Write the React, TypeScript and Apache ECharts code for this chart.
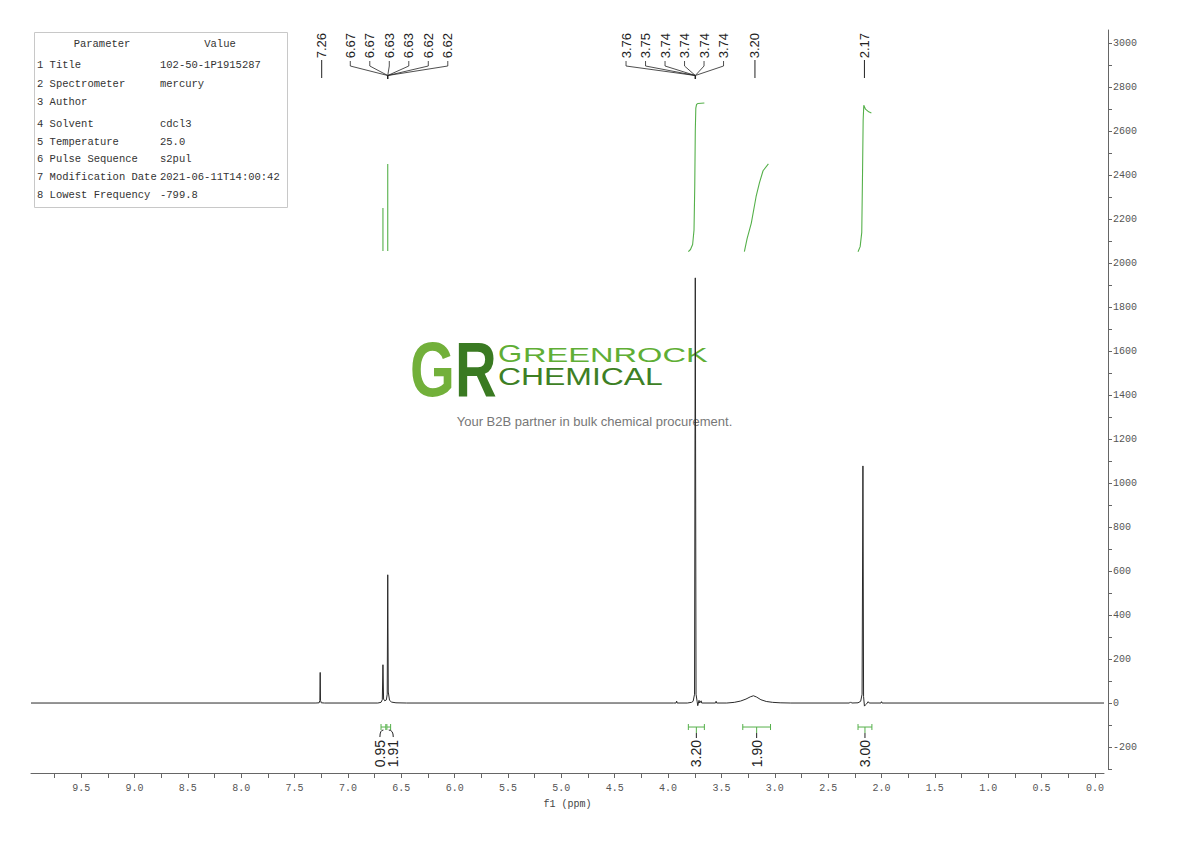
import { useEffect, useRef } from "react";
import * as echarts from "echarts";

// 1H trace: [ppm, intensity]
const SPECTRUM: [number, number][] = [
  [9.97, 0], [7.3, 0], [7.27, 1], [7.263, 12], [7.26, 139], [7.257, 12], [7.25, 1], [7.22, 0],
  [6.72, 0], [6.69, 3], [6.678, 15], [6.672, 174], [6.666, 18], [6.655, 10], [6.64, 14],
  [6.632, 40], [6.627, 583], [6.622, 50], [6.61, 12], [6.59, 4], [6.55, 1], [6.45, 0],
  [3.95, 0], [3.925, 0], [3.92, 9], [3.915, 0], [3.82, 0], [3.78, 3], [3.765, 8], [3.752, 40],
  [3.745, 1933], [3.738, 40], [3.728, 8], [3.722, -12], [3.716, 0], [3.71, 12], [3.704, 0],
  [3.69, 10], [3.685, 0], [3.555, 0], [3.55, 8], [3.545, 0],
  [3.45, 0], [3.38, 3], [3.32, 9], [3.27, 18], [3.23, 28], [3.2, 33], [3.17, 27], [3.13, 15],
  [3.08, 7], [3.02, 3], [2.95, 1], [2.85, 0],
  [2.3, 0], [2.29, 5], [2.28, 0], [2.22, 1], [2.195, 8], [2.182, 40], [2.174, 1078], [2.168, 30],
  [2.16, -14], [2.15, -8], [2.14, -4], [2.125, 6], [2.115, 0], [2.005, 0], [2.0, 6], [1.995, 0],
  [-0.085, 0],
];

// integral curves (green), same y scale
const INT_CURVE_1: [number, number][] = [[6.672, 2055], [6.672, 2251]];
const INT_CURVE_2: [number, number][] = [[6.627, 2055], [6.627, 2451]];
const INT_CURVE_3: [number, number][] = [
  [3.81, 2052], [3.79, 2062], [3.77, 2085], [3.757, 2150], [3.75, 2350], [3.745, 2600],
  [3.74, 2705], [3.733, 2722], [3.72, 2726], [3.66, 2728],
];
const INT_CURVE_4: [number, number][] = [
  [3.285, 2052], [3.26, 2110], [3.22, 2182], [3.175, 2303], [3.144, 2365], [3.11, 2420], [3.06, 2451],
];
const INT_CURVE_5: [number, number][] = [
  [2.22, 2052], [2.2, 2075], [2.185, 2140], [2.178, 2400], [2.172, 2650], [2.166, 2718],
  [2.15, 2700], [2.12, 2688], [2.095, 2683],
];

// peak picking labels
const PEAK_PPM = [7.26, 6.627, 3.745, 3.2, 2.174];
const PEAK_TEXTS = [
  ["7.26"],
  ["6.67", "6.67", "6.63", "6.63", "6.62", "6.62"],
  ["3.76", "3.75", "3.74", "3.74", "3.74", "3.74"],
  ["3.20"],
  ["2.17"],
];

// integral regions
const INT_FROM = [6.69, 6.635, 3.81, 3.3, 2.22];
const INT_TO = [6.645, 6.6, 3.66, 3.04, 2.09];
const INT_VALUES = ["0.95", "1.91", "3.20", "1.90", "3.00"];

// axis ticks
const X_LABELS = [0, 0.5, 1, 1.5, 2, 2.5, 3, 3.5, 4, 4.5, 5, 5.5, 6, 6.5, 7, 7.5, 8, 8.5, 9, 9.5];
const X_TICKS = X_LABELS.flatMap((v) => [v, v + 0.25]);
const Y_LABELS = [-200, 0, 200, 400, 600, 800, 1000, 1200, 1400, 1600, 1800, 2000, 2200, 2400, 2600, 2800, 3000];
const Y_TICKS = Y_LABELS.flatMap((v) => [v - 100, v]);

// parameter table
const PARAM_NAMES = [
  "1 Title", "2 Spectrometer", "3 Author", "4 Solvent", "5 Temperature",
  "6 Pulse Sequence", "7 Modification Date", "8 Lowest Frequency",
];
const PARAM_VALUES = [
  "102-50-1P1915287", "mercury", "", "cdcl3", "25.0", "s2pul", "2021-06-11T14:00:42", "-799.8",
];

// layout
const MONO = '"Liberation Mono", monospace';
const SANS = '"Liberation Sans", Arial, sans-serif';
const GREEN = "#55b04a";
const LABEL_GAP = 19.5;
const LABEL_SHIFT = [0, 11.3, -20.5, 0, 0];
const INT_SHIFT = [-3.5, 4.5, 0, 0, 0];
const ROW_Y = [65, 83.5, 101.5, 123.5, 141.5, 159, 177, 195];

const App = () => {
  const chartRef = useRef<HTMLDivElement>(null);

  useEffect(() => {
    if (!chartRef.current) return;
    const chart = echarts.init(chartRef.current, null, { renderer: "svg" });

    const peakLabels = (params: any, api: any) => {
      const i = params.dataIndex;
      const px = api.coord([PEAK_PPM[i], 0])[0];
      const texts = PEAK_TEXTS[i];
      const n = texts.length;
      const start = px + LABEL_SHIFT[i] - ((n - 1) * LABEL_GAP) / 2;
      const children: any[] = [];
      texts.forEach((t, k) => {
        const lx = n === 1 ? px + 1.5 : start + k * LABEL_GAP;
        children.push({
          type: "text",
          x: lx,
          y: 33,
          rotation: Math.PI / 2,
          style: {
            text: t,
            font: `13px ${SANS}`,
            fill: "#222",
            align: "right",
            verticalAlign: "middle",
          },
        });
        if (n === 1) {
          children.push({
            type: "line",
            shape: { x1: lx, y1: 60, x2: lx, y2: 78 },
            style: { stroke: "#222", lineWidth: 1 },
          });
        } else {
          children.push({
            type: "polyline",
            shape: { points: [[lx, 61], [lx, 66], [px, 75.5]] },
            style: { stroke: "#222", lineWidth: 0.8, fill: "none" },
          });
        }
      });
      if (n > 1) {
        children.push({
          type: "line",
          shape: { x1: px, y1: 75.5, x2: px, y2: 79 },
          style: { stroke: "#222", lineWidth: 1.5 },
        });
      }
      return { type: "group", children };
    };

    const integralLabels = (params: any, api: any) => {
      const i = params.dataIndex;
      const x1 = api.coord([INT_FROM[i], 0])[0];
      const x2 = api.coord([INT_TO[i], 0])[0];
      const y0 = api.coord([0, 0])[1];
      const cx = (x1 + x2) / 2;
      const lx = cx + INT_SHIFT[i];
      const yb = y0 + 24;
      const green = { stroke: GREEN, lineWidth: 1 };
      const children: any[] = [
        { type: "line", shape: { x1, y1: yb, x2, y2: yb }, style: green },
        { type: "line", shape: { x1, y1: yb - 3, x2: x1, y2: yb + 3 }, style: green },
        { type: "line", shape: { x1: x2, y1: yb - 3, x2, y2: yb + 3 }, style: green },
      ];
      if (INT_SHIFT[i] === 0) {
        children.push(
          { type: "line", shape: { x1: cx, y1: yb, x2: cx, y2: yb + 6 }, style: green },
          { type: "line", shape: { x1: cx, y1: yb + 6, x2: cx, y2: yb + 11 }, style: { stroke: "#222", lineWidth: 1 } }
        );
      } else {
        children.push({
          type: "bezierCurve",
          shape: { x1: cx, y1: yb + 3, cpx1: lx, cpy1: yb + 3, x2: lx, y2: yb + 10 },
          style: { stroke: "#222", lineWidth: 1, fill: "none" },
        });
      }
      children.push({
        type: "text",
        x: lx,
        y: yb + 13,
        rotation: Math.PI / 2,
        style: {
          text: INT_VALUES[i],
          font: `14px ${SANS}`,
          fill: "#222",
          align: "right",
          verticalAlign: "middle",
        },
      });
      return { type: "group", children };
    };

    const tableText = (text: string, x: number, y: number, align = "left") => ({
      type: "text",
      x,
      y,
      style: { text, font: `10.5px ${MONO}`, fill: "#333", align, verticalAlign: "middle" },
    });

    const graphic: any[] = [
      {
        type: "rect",
        shape: { x: 34.5, y: 32.5, width: 253, height: 175 },
        style: { fill: "#fff", stroke: "#c8c8c8", lineWidth: 1 },
      },
      tableText("Parameter", 102, 43.5, "center"),
      tableText("Value", 220, 43.5, "center"),
      ...PARAM_NAMES.map((t, k) => tableText(t, 37, ROW_Y[k])),
      ...PARAM_VALUES.map((t, k) => tableText(t, 160, ROW_Y[k])),
      // watermark logo
      {
        type: "text", x: 410, y: 369, scaleX: 0.74, z: -10,
        style: {
          text: "{g|G}{r|R}",
          font: `bold 78px ${SANS}`,
          align: "left",
          verticalAlign: "middle",
          rich: {
            g: { fill: "#72b03a", font: `bold 78px ${SANS}` },
            r: { fill: "#3a7a22", font: `bold 78px ${SANS}` },
          },
        },
      },
      {
        type: "text", x: 498, y: 354, scaleX: 1.3, z: -10,
        style: { text: "G", font: `24px ${SANS}`, fill: "#5fae35", align: "left", verticalAlign: "middle" },
      },
      {
        type: "text", x: 523, y: 355.5, scaleX: 1.63, z: -10,
        style: { text: "REENROCK", font: `20px ${SANS}`, fill: "#5fae35", align: "left", verticalAlign: "middle" },
      },
      {
        type: "text", x: 498, y: 377, scaleX: 1.33, z: -10,
        style: { text: "CHEMICAL", font: `24px ${SANS}`, fill: "#3d7f25", align: "left", verticalAlign: "middle" },
      },
      {
        type: "text", x: 594.5, y: 421, z: -10,
        style: {
          text: "Your B2B partner in bulk chemical procurement.",
          font: `13px ${SANS}`, fill: "#777", align: "center", verticalAlign: "middle",
        },
      },
    ];

    const intSeries = [INT_CURVE_1, INT_CURVE_2, INT_CURVE_3, INT_CURVE_4, INT_CURVE_5].map((d) => ({
      type: "line",
      data: d,
      showSymbol: false,
      silent: true,
      lineStyle: { color: GREEN, width: 1.1 },
      z: 3,
    }));

    chart.setOption({
      animation: false,
      backgroundColor: "#fff",
      tooltip: { show: false },
      grid: { left: 31, right: 86, top: 30, bottom: 72 },
      xAxis: {
        type: "value",
        min: -0.085,
        max: 9.97,
        inverse: true,
        offset: 4,
        name: "f1 (ppm)",
        nameLocation: "middle",
        nameGap: 26,
        nameTextStyle: { fontFamily: MONO, fontSize: 10, color: "#444" },
        axisLine: { onZero: false, lineStyle: { color: "#666", width: 1 } },
        axisTick: { show: true, customValues: X_TICKS, length: 5, lineStyle: { color: "#666" } },
        axisLabel: {
          customValues: X_LABELS,
          formatter: (v: number) => v.toFixed(1),
          fontFamily: MONO,
          fontSize: 10,
          color: "#555",
          margin: 10,
        },
        splitLine: { show: false },
      },
      yAxis: {
        type: "value",
        position: "right",
        min: -300,
        max: 3060,
        offset: 4,
        axisLine: { show: true, onZero: false, lineStyle: { color: "#666", width: 1 } },
        axisTick: { show: true, customValues: Y_TICKS, length: 4, lineStyle: { color: "#666" } },
        axisLabel: {
          customValues: Y_LABELS,
          formatter: (v: number) => String(v),
          fontFamily: MONO,
          fontSize: 10,
          color: "#555",
          margin: 5,
        },
        splitLine: { show: false },
      },
      graphic,
      series: [
        {
          type: "line",
          data: SPECTRUM,
          showSymbol: false,
          silent: true,
          lineStyle: { color: "#2a2a2a", width: 1 },
          z: 4,
        },
        ...intSeries,
        {
          type: "custom",
          data: PEAK_PPM.map((p) => [p, 0]),
          renderItem: peakLabels,
          silent: true,
          z: 5,
        },
        {
          type: "custom",
          data: INT_FROM.map((p) => [p, 0]),
          renderItem: integralLabels,
          silent: true,
          z: 5,
        },
      ],
    });

    return () => chart.dispose();
  }, []);

  return (
    <div
      ref={chartRef}
      style={{ position: "absolute", left: 0, top: 0, width: 1190, height: 841 }}
    />
  );
};

export default App;
